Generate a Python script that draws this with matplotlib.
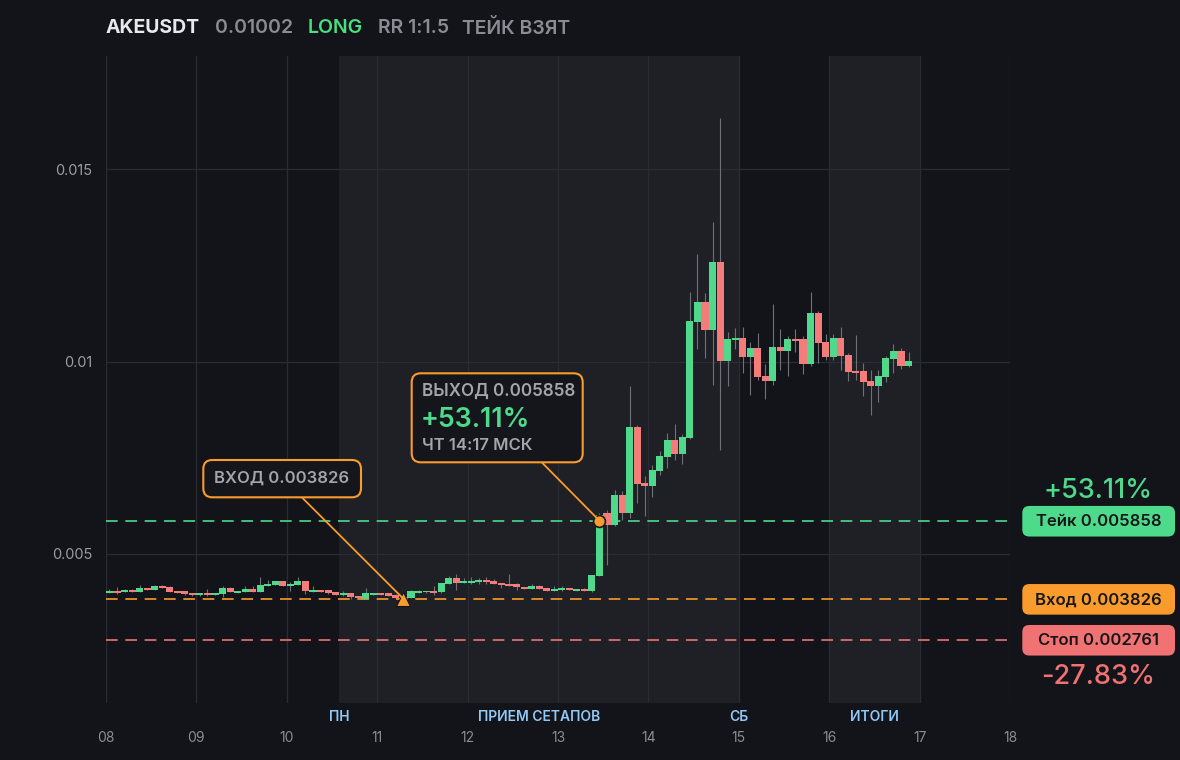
import numpy as np
import matplotlib
matplotlib.use('Agg')
import matplotlib.pyplot as plt
import matplotlib.transforms as mtransforms
from matplotlib.patches import FancyBboxPatch, ConnectionPatch
from matplotlib.ticker import FuncFormatter

plt.rcParams['font.family'] = ['Inter', 'DejaVu Sans']

# ---------------- data ----------------
symbol = "AKEUSDT"
last_price = "0.01002"
side = "LONG"
rr_text = "RR 1:1.5"
status = "ТЕЙК ВЗЯТ"

start_day = 8
candle_hours = 2

opens = [0.003978, 0.004030, 0.004004, 0.004056, 0.004004, 0.004108, 0.004056, 0.004160, 0.004134, 0.004030,
         0.004030, 0.003978, 0.003926, 0.003978, 0.003926, 0.003952, 0.004108, 0.003978, 0.004004, 0.004082,
         0.004004, 0.004160, 0.004186, 0.004290, 0.004160, 0.004186, 0.004290, 0.004004, 0.004056, 0.004056,
         0.004004, 0.003926, 0.003978, 0.003900, 0.003822, 0.003926, 0.003978, 0.003978, 0.003926, 0.003835,
         0.003848, 0.003978, 0.004004, 0.004030, 0.003995, 0.004212, 0.004368, 0.004238, 0.004238, 0.004264,
         0.004316, 0.004290, 0.004238, 0.004212, 0.004212, 0.004134, 0.004082, 0.004160, 0.004108, 0.004030,
         0.004056, 0.004108, 0.004030, 0.004082, 0.004030, 0.004430, 0.006059, 0.005747, 0.006527, 0.006067,
         0.008296, 0.006839, 0.006769, 0.007159, 0.007524, 0.007958, 0.007601, 0.008018, 0.011028, 0.011548,
         0.010819, 0.012589, 0.010013, 0.010559, 0.010611, 0.010117, 0.010351, 0.009623, 0.009493, 0.010377,
         0.010273, 0.010585, 0.010585, 0.009935, 0.011262, 0.010507, 0.010117, 0.010611, 0.010169, 0.009753,
         0.009753, 0.009493, 0.009363, 0.009597, 0.010065, 0.010273, 0.009883]
highs = [0.004082, 0.004134, 0.004082, 0.004082, 0.004186, 0.004115, 0.004186, 0.004175, 0.004160, 0.004040,
         0.004040, 0.003990, 0.003990, 0.004082, 0.003940, 0.004160, 0.004134, 0.004040, 0.004160, 0.004160,
         0.004394, 0.004316, 0.004300, 0.004300, 0.004264, 0.004394, 0.004300, 0.004160, 0.004065, 0.004065,
         0.004015, 0.004030, 0.003990, 0.003910, 0.004108, 0.003990, 0.003990, 0.003990, 0.003940, 0.003880,
         0.004045, 0.004056, 0.004040, 0.004160, 0.004250, 0.004420, 0.004472, 0.004368, 0.004394, 0.004368,
         0.004394, 0.004342, 0.004250, 0.004472, 0.004225, 0.004145, 0.004212, 0.004186, 0.004120, 0.004160,
         0.004160, 0.004120, 0.004045, 0.004095, 0.004446, 0.006060, 0.006137, 0.006657, 0.006631, 0.009363,
         0.008348, 0.007021, 0.007307, 0.007672, 0.008140, 0.008374, 0.008114, 0.011808, 0.012797, 0.011782,
         0.013629, 0.016335, 0.010767, 0.010872, 0.010898, 0.010507, 0.010741, 0.009935, 0.011496, 0.010845,
         0.010663, 0.010845, 0.010663, 0.011808, 0.011314, 0.010715, 0.010715, 0.010897, 0.010221, 0.010689,
         0.009961, 0.009779, 0.009779, 0.010151, 0.010455, 0.010351, 0.010247]
lows = [0.003965, 0.003952, 0.003995, 0.004000, 0.003995, 0.004050, 0.004050, 0.004100, 0.004000, 0.003970,
        0.003926, 0.003900, 0.003900, 0.003900, 0.003915, 0.003874, 0.003995, 0.003970, 0.003995, 0.003995,
        0.003995, 0.004150, 0.004180, 0.004150, 0.004030, 0.004180, 0.003952, 0.003995, 0.003995, 0.003952,
        0.003915, 0.003900, 0.003822, 0.003840, 0.003810, 0.003915, 0.003915, 0.003890, 0.003840, 0.003826,
        0.003840, 0.003970, 0.003990, 0.003926, 0.003990, 0.004200, 0.004056, 0.004230, 0.004212, 0.004212,
        0.004212, 0.004200, 0.004108, 0.004150, 0.004056, 0.004070, 0.004070, 0.004070, 0.004020, 0.004020,
        0.004030, 0.004045, 0.004020, 0.004020, 0.003995, 0.004420, 0.004706, 0.005720, 0.005877, 0.005937,
        0.006327, 0.005989, 0.006483, 0.007047, 0.007237, 0.007445, 0.007341, 0.007990, 0.010325, 0.010091,
        0.009389, 0.007698, 0.009363, 0.010325, 0.009701, 0.009129, 0.009519, 0.009024, 0.009389, 0.009779,
        0.009623, 0.010247, 0.009675, 0.009883, 0.009961, 0.010039, 0.010039, 0.009779, 0.009493, 0.009519,
        0.009103, 0.008608, 0.008946, 0.009475, 0.009701, 0.009805, 0.009870]
closes = [0.004030, 0.003978, 0.004056, 0.004010, 0.004108, 0.004056, 0.004160, 0.004108, 0.004004, 0.003978,
          0.003952, 0.003926, 0.003978, 0.003926, 0.003978, 0.004108, 0.004004, 0.004030, 0.004082, 0.004004,
          0.004186, 0.004212, 0.004290, 0.004160, 0.004212, 0.004290, 0.004030, 0.004056, 0.004004, 0.003978,
          0.003926, 0.003978, 0.003874, 0.003848, 0.003978, 0.003978, 0.003926, 0.003900, 0.003848, 0.003870,
          0.004030, 0.004030, 0.004030, 0.003978, 0.004238, 0.004368, 0.004238, 0.004290, 0.004290, 0.004316,
          0.004264, 0.004212, 0.004186, 0.004160, 0.004134, 0.004082, 0.004160, 0.004082, 0.004030, 0.004082,
          0.004108, 0.004056, 0.004082, 0.004030, 0.004446, 0.006008, 0.005747, 0.006527, 0.006067, 0.008296,
          0.006821, 0.006769, 0.007177, 0.007542, 0.007958, 0.007601, 0.008036, 0.011054, 0.011548, 0.010819,
          0.012589, 0.010013, 0.010585, 0.010611, 0.010117, 0.010351, 0.009597, 0.009493, 0.010377, 0.010273,
          0.010585, 0.010533, 0.009935, 0.011262, 0.010481, 0.010117, 0.010611, 0.010143, 0.009727, 0.009701,
          0.009467, 0.009363, 0.009623, 0.010091, 0.010273, 0.009883, 0.010020]

day_ticks = [8, 9, 10, 11, 12, 13, 14, 15, 16, 17, 18]
day_labels = ["08", "09", "10", "11", "12", "13", "14", "15", "16", "17", "18"]
price_ticks = [0.005, 0.01, 0.015]

take_price = 0.005858
entry_price = 0.003826
stop_price = 0.002761
take_pct = "+53.11%"
stop_pct = "-27.83%"
entry_idx = 39
exit_idx = 65
exit_time = "ЧТ 14:17 МСК"

bands = [(10.58, 15.0), (16.0, 17.0)]
band_names = ["ПН", "ПРИЕМ СЕТАПОВ", "СБ", "ИТОГИ"]
band_name_pos = [10.58, 12.79, 15.0, 16.5]

# ---------------- style ----------------
BG = '#131419'
BAND = '#1f2025'
GRID = '#2a2c32'
GREEN = '#50d98c'
RED = '#f47c7a'
ORANGE = '#f99b2d'
TAG_GREEN = '#4ddb8b'
TAG_RED = '#f07272'
WICK = '#6e7179'
GRAY = '#9a9ca4'
LBLUE = '#90c8f6'

W, H = 1180, 760
fig = plt.figure(figsize=(W / 100, H / 100), dpi=100, facecolor=BG)
ax_l, ax_r, ax_t, ax_b = 105.7, 1010.3, 56, 703
ax = fig.add_axes([ax_l / W, 1 - ax_b / H, (ax_r - ax_l) / W, (ax_b - ax_t) / H])
ax.set_facecolor(BG)
ax.set_xlim(day_ticks[0], day_ticks[-1])
ax.set_ylim(0.001116, 0.017948)

for s in ax.spines.values():
    s.set_visible(False)

for a, b in bands:
    ax.axvspan(a, b, color=BAND, lw=0, zorder=0)

ax.set_xticks(day_ticks)
ax.set_xticklabels(day_labels)
ax.set_yticks(price_ticks)
ax.yaxis.set_major_formatter(FuncFormatter(lambda v, p: f"{v:g}"))
ax.grid(True, color=GRID, lw=0.9, zorder=0.5)
ax.set_axisbelow(True)
ax.tick_params(axis='both', length=0)
ax.tick_params(axis='y', labelsize=10.5, labelcolor=GRAY, pad=9.5)
ax.tick_params(axis='x', labelsize=10, labelcolor='#8a8c93', pad=20)

# candles
n = len(opens)
xs = np.array([start_day + (i + 0.5) * candle_hours / 24 for i in range(n)])
o = np.array(opens); h = np.array(highs); l = np.array(lows); c = np.array(closes)
cols = [GREEN if cc >= oo else RED for oo, cc in zip(o, c)]
ax.vlines(xs, l, h, color=WICK, lw=0.8, zorder=2)
bottoms = np.minimum(o, c)
heights = np.maximum(np.abs(c - o), 0.00003)
ax.bar(xs, heights, bottom=bottoms, width=0.078, color=cols, lw=0, zorder=3)

# level lines
ax.axhline(take_price, color=TAG_GREEN, lw=1.2, ls=(0, (7.0, 4.6)), zorder=2.5)
ax.axhline(entry_price, color=ORANGE, lw=1.2, ls=(0, (7.0, 4.6)), zorder=2.5)
ax.axhline(stop_price, color=TAG_RED, lw=1.2, ls=(0, (7.0, 4.6)), zorder=2.5)

# markers
ex_x = xs[entry_idx]
xx_x = xs[exit_idx]
ax.plot([ex_x], [entry_price], marker='^', ms=10, color=ORANGE, mec=BG, mew=0.8, zorder=6)
ax.plot([xx_x], [take_price], marker='o', ms=8.5, color=ORANGE, mec='#1a1a1a', mew=1.2, zorder=6)

# pixel transforms: 'px' uses top-left origin for points; 'pu' bottom-left for patches
px = mtransforms.Affine2D().scale(1 / W, -1 / H).translate(0, 1) + fig.transFigure
pu = mtransforms.Affine2D().scale(1 / W, 1 / H) + fig.transFigure


def box(x0, y0, x1, y1, fc, ec=None, lw=0, r=8):
    # y0 top, y1 bottom in top-left pixel space
    p = FancyBboxPatch((x0, H - y1), x1 - x0, y1 - y0, boxstyle=f"round,pad=0,rounding_size={r}",
                       transform=pu, facecolor=fc, edgecolor=ec if ec else 'none', lw=lw, zorder=10)
    fig.patches.append(p)


# entry annotation
con = ConnectionPatch(xyA=(302, 497.5), coordsA=px, xyB=(ex_x, entry_price), coordsB=ax.transData,
                      color=ORANGE, lw=1.3, zorder=5)
fig.add_artist(con)
box(203.3, 460, 361, 497.3, '#15161b', ORANGE, 1.5, 9)
fig.text(214, 478.2, f"ВХОД {entry_price:.6f}", transform=px, ha='left', va='center',
         fontsize=12, color='#a3a5ab', fontweight='semibold', zorder=11)

# exit annotation
con2 = ConnectionPatch(xyA=(541.7, 462.3), coordsA=px, xyB=(xx_x, take_price), coordsB=ax.transData,
                       color=ORANGE, lw=1.3, zorder=5)
fig.add_artist(con2)
box(411.7, 373.3, 582.7, 462.3, '#15161b', ORANGE, 1.5, 9)
fig.text(422.3, 391, f"ВЫХОД {take_price:.6f}", transform=px, ha='left', va='center',
         fontsize=12.3, color='#a3a5ab', fontweight='semibold', zorder=11)
fig.text(421, 420, take_pct, transform=px, ha='left', va='center',
         fontsize=19.2, color=TAG_GREEN, fontweight='semibold', zorder=11)
fig.text(422.3, 445.5, exit_time, transform=px, ha='left', va='center',
         fontsize=12, color='#a3a5ab', fontweight='semibold', zorder=11)


# right-side tags
def ypx(v):
    return H - ax.transData.transform((day_ticks[0], v))[1]


for price, name, col in [(take_price, "Тейк", TAG_GREEN), (entry_price, "Вход", ORANGE),
                         (stop_price, "Стоп", TAG_RED)]:
    yc = ypx(price) + 0.5
    box(1022.3, yc - 15.3, 1175, yc + 15.3, col, None, 0, 7)
    fig.text(1098.6, yc + 0.5, f"{name} {price:.6f}", transform=px, ha='center', va='center',
             fontsize=12, color='#15161a', fontweight='semibold', zorder=11)

fig.text(1098, 490.5, take_pct, transform=px, ha='center', va='center', fontsize=19.5,
         color=TAG_GREEN, fontweight='medium')
fig.text(1098, 677.5, stop_pct, transform=px, ha='center', va='center', fontsize=19.5,
         color=TAG_RED, fontweight='medium')

# band names
bt = mtransforms.blended_transform_factory(ax.transData, px)
for name, pos in zip(band_names, band_name_pos):
    ax.text(pos, 716.7, name, transform=bt, ha='center', va='center', fontsize=10,
            color=LBLUE, fontweight='semibold', clip_on=False)

# title
title_parts = [(symbol, 105.5, '#e8e9ec', 'bold'),
               (last_price, 215.4, '#8a8c93', 'semibold'),
               (side, 307.5, '#4ade80', 'semibold'),
               (rr_text, 377.5, '#8a8c93', 'semibold'),
               (status, 462.5, '#8a8c93', 'semibold')]
for txt, x0, col, wt in title_parts:
    fig.text(x0, 28, txt, transform=px, ha='left', va='center', fontsize=14, color=col, fontweight=wt)

fig.savefig('out.png', dpi=100, facecolor=BG)
